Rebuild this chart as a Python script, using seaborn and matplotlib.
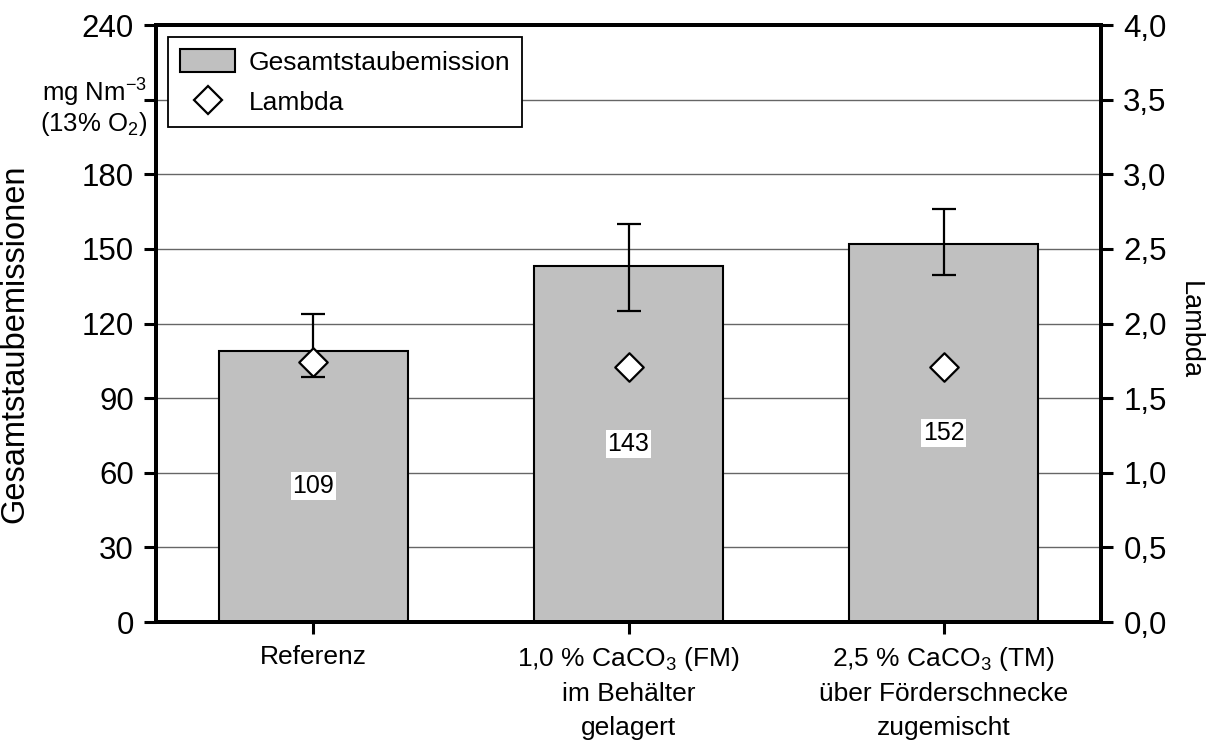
import numpy as np
import pandas as pd
import matplotlib
matplotlib.use("Agg")
import matplotlib.pyplot as plt
import seaborn as sns
from matplotlib.patches import Patch
from matplotlib.lines import Line2D
from matplotlib.ticker import FuncFormatter

# Data
categories = [
    "Referenz",
    "1,0 % CaCO$_3$ (FM)\nim Behälter\ngelagert",
    "2,5 % CaCO$_3$ (TM)\nüber Förderschnecke\nzugemischt",
]
dust_mean = [109, 143, 152]          # mg Nm^-3 (13 % O2)
dust_low = [98.5, 125.0, 139.5]      # lower end of error bar
dust_high = [124.0, 160.0, 166.0]    # upper end of error bar
lambda_vals = [1.74, 1.71, 1.71]
left_ticks = [0, 30, 60, 90, 120, 150, 180, 210, 240]
right_ticks = [0.0, 0.5, 1.0, 1.5, 2.0, 2.5, 3.0, 3.5, 4.0]

sns.set_style("ticks", rc={
    "text.color": "black", "axes.labelcolor": "black",
    "xtick.color": "black", "ytick.color": "black",
    "axes.edgecolor": "black",
})
plt.rcParams["font.family"] = ["Liberation Sans", "DejaVu Sans"]
plt.rcParams["mathtext.fontset"] = "custom"
plt.rcParams["mathtext.rm"] = "Liberation Sans"
plt.rcParams["mathtext.it"] = "Liberation Sans:italic"
plt.rcParams["mathtext.bf"] = "Liberation Sans:bold"
plt.rcParams["mathtext.sf"] = "Liberation Sans"
plt.rcParams["mathtext.default"] = "regular"

FS_Y = 22.5   # y tick labels
FS_X = 19     # category labels, legend
df = pd.DataFrame({"Variante": categories, "Staub": dust_mean})

fig = plt.figure(figsize=(12.13, 7.42), dpi=100)
ax = fig.add_axes([0.1286, 0.1617, 0.7791, 0.8046])

sns.barplot(data=df, x="Variante", y="Staub", color="#c0c0c0", saturation=1,
            edgecolor="black", linewidth=1.5, width=0.6, errorbar=None, ax=ax,
            zorder=2)

xpos = np.arange(len(categories))
means = np.array(dust_mean, dtype=float)
yerr = [means - np.array(dust_low), np.array(dust_high) - means]
ax.errorbar(xpos, means, yerr=yerr, fmt="none", ecolor="black",
            elinewidth=1.6, capsize=8.5, capthick=1.6, zorder=3)

# value labels in the middle of each bar
ax.bar_label(ax.containers[0], labels=[str(v) for v in dust_mean],
             label_type="center", fontsize=18, zorder=4, color="black",
             bbox=dict(facecolor="white", edgecolor="none", pad=1.5))

ax.set_xlim(-0.5, 2.5)
ax.set_ylim(0, 240)
ax.set_yticks(left_ticks)
ax.set_yticklabels(["" if t == 210 else str(t) for t in left_ticks])
ax.yaxis.grid(True, color="#666666", linewidth=1.0)
ax.set_axisbelow(True)
ax.set_xlabel("")
ax.set_ylabel("Gesamtstaubemissionen", fontsize=23.5)
ax.yaxis.set_label_coords(-0.133, 0.466)

ax.tick_params(axis="y", which="major", labelsize=FS_Y, length=8.5,
               width=2.2, pad=7.5, color="black", labelcolor="black")
ax.tick_params(axis="x", which="major", labelsize=FS_X, length=8.5,
               width=2.2, pad=8, color="black", labelcolor="black")
plt.setp(ax.get_xticklabels(), linespacing=1.5)

for side in ["left", "right", "top", "bottom"]:
    ax.spines[side].set_visible(True)
    ax.spines[side].set_linewidth(2.8)
    ax.spines[side].set_color("black")

# unit annotation next to the left axis
ax.text(-0.009, 0.887, "mg Nm$^{-3}$", transform=ax.transAxes,
        ha="right", va="center", fontsize=18.5, color="black")
ax.text(-0.009, 0.834, "(13% O$_2$)", transform=ax.transAxes,
        ha="right", va="center", fontsize=18.5, color="black")

# secondary axis: lambda
ax2 = ax.twinx()
sns.scatterplot(x=xpos, y=lambda_vals, marker="D", s=14.5 ** 2,
                color="white", edgecolor="black", linewidth=1.6,
                ax=ax2, zorder=5, legend=False)
ax2.set_ylim(0, 4)
ax2.set_yticks(right_ticks)
ax2.yaxis.set_major_formatter(FuncFormatter(lambda v, p: f"{v:.1f}".replace(".", ",")))
ax2.set_ylabel("Lambda", fontsize=FS_X + 0.5, rotation=270, va="center", ha="center")
ax2.yaxis.set_label_coords(1.094, 0.489)
ax2.tick_params(axis="y", labelsize=FS_Y, length=8.5, width=2.2, pad=7.5,
                color="black", labelcolor="black")
for side in ["left", "right", "top", "bottom"]:
    ax2.spines[side].set_linewidth(2.8)
    ax2.spines[side].set_color("black")

handles = [
    Patch(facecolor="#c0c0c0", edgecolor="black", linewidth=1.5),
    Line2D([], [], marker="D", linestyle="none", markersize=14.5,
           markerfacecolor="white", markeredgecolor="black", markeredgewidth=1.6),
]
leg = ax2.legend(handles, ["Gesamtstaubemission", "Lambda"], loc="upper left",
                 bbox_to_anchor=(0.0127, 0.98), borderaxespad=0, fontsize=FS_X,
                 frameon=True, fancybox=False, framealpha=1, edgecolor="black",
                 handlelength=2.1, handleheight=1.0, handletextpad=0.5,
                 labelspacing=0.55, borderpad=0.45)
leg.get_frame().set_linewidth(1.3)

fig.savefig("out.png", dpi=100)
